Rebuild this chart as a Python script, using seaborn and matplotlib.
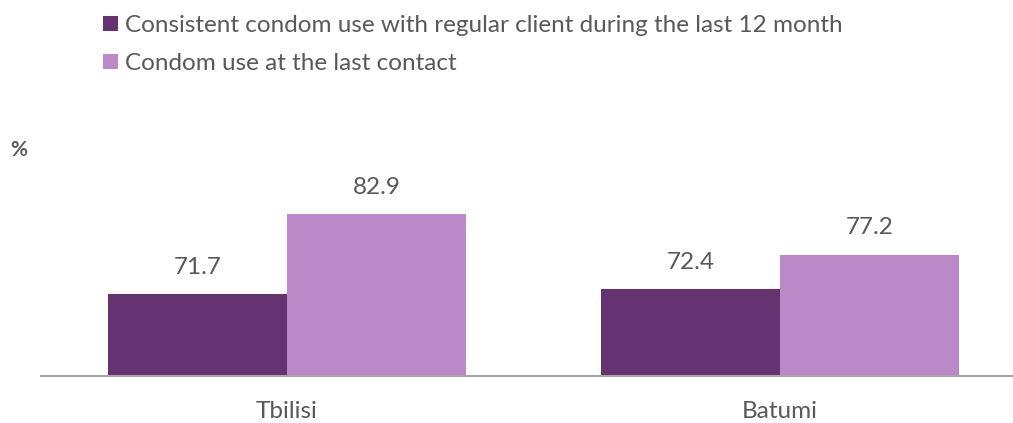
import numpy as np
import pandas as pd
import seaborn as sns
import matplotlib
matplotlib.use('Agg')
import matplotlib.pyplot as plt

# data
cities = ['Tbilisi', 'Batumi']
indicators = ['Consistent condom use with regular client during the last 12 month',
              'Condom use at the last contact']
consistent_use = [71.7, 72.4]
last_contact_use = [82.9, 77.2]

colors = ['#663371', '#BB89C7']
text_color = '#595959'

df = pd.DataFrame({
    'city': cities * 2,
    'indicator': [indicators[0]] * 2 + [indicators[1]] * 2,
    'value': consistent_use + last_contact_use,
})

sns.set_theme(style='white')
plt.rcParams['font.family'] = ['Lato', 'DejaVu Sans']

fig = plt.figure(figsize=(10.13, 4.23), dpi=100)
ax = fig.add_axes([0.04, 0.11, 0.96, 0.5])

sns.barplot(data=df, x='city', y='value', hue='indicator', hue_order=indicators,
            palette=colors, saturation=1, width=0.726, linewidth=0, ax=ax, legend=True)

for cont in ax.containers:
    ax.bar_label(cont, fmt='%.1f', padding=12, fontsize=17.5, color=text_color)

ax.set_ylim(60.2, 89.8)
ax.set_xlim(-0.5, 1.473)
ax.set_xlabel('')
ax.set_ylabel('')
ax.set_yticks([])
for side in ['top', 'left', 'right']:
    ax.spines[side].set_visible(False)
ax.spines['bottom'].set_color('#A6A6A6')
ax.spines['bottom'].set_linewidth(1.5)
ax.tick_params(axis='x', length=0, pad=18, labelsize=17.5, labelcolor=text_color)

handles, labels = ax.get_legend_handles_labels()
ax.get_legend().remove()
fig.legend(handles, labels, loc='upper left', bbox_to_anchor=(0.102, 0.965),
           frameon=False, fontsize=17.5, labelcolor=text_color,
           handlelength=0.6, handleheight=0.6, handletextpad=0.3,
           labelspacing=0.72, borderpad=0, borderaxespad=0)

fig.text(10 / 1013, 1 - 150 / 423, '%', fontsize=15, fontweight='bold',
         color=text_color, ha='left', va='center')

fig.savefig('out.png', dpi=100)
